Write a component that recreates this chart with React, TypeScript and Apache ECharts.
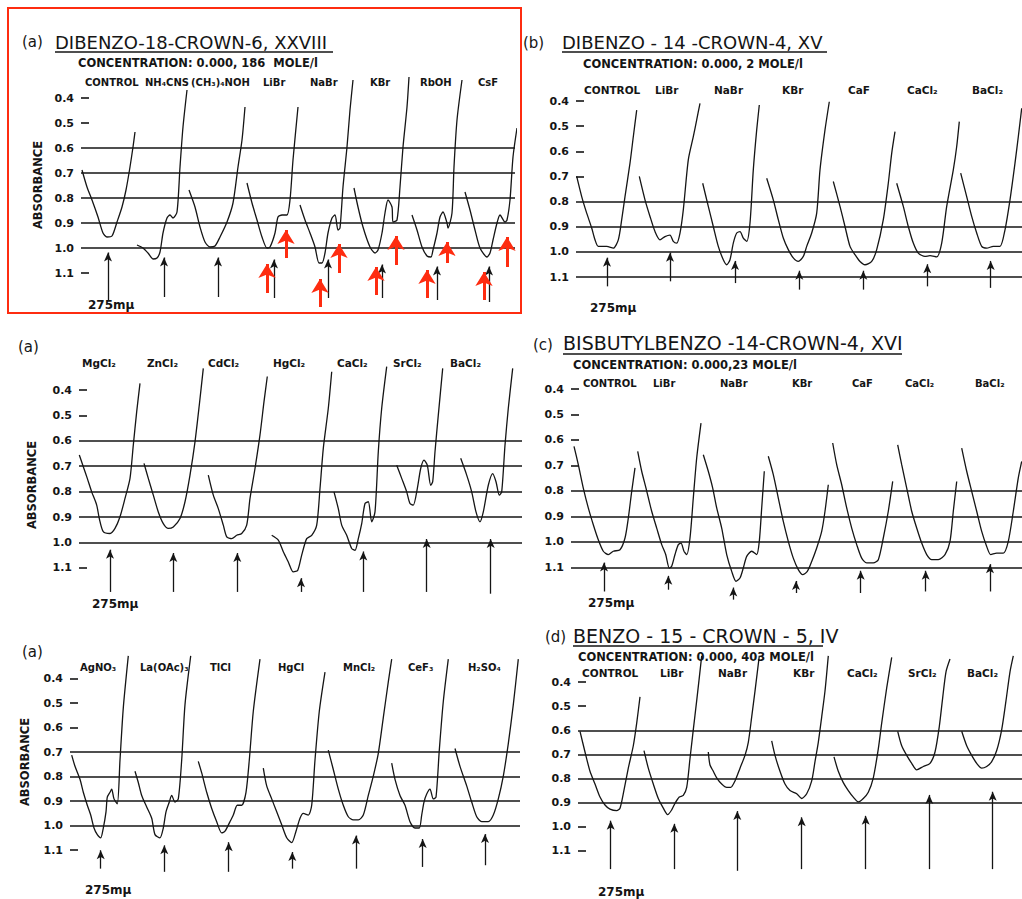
import React, { useEffect, useRef } from 'react';
import * as echarts from 'echarts';

type Pt = [number, number];
type Arrow = [number, number, number]; // x position, tail absorbance, tip absorbance

// ---------- tick labels ----------
const tickValues = [0.4, 0.5, 0.6, 0.7, 0.8, 0.9, 1.0, 1.1];

// ---------- panel (a) DIBENZO-18-CROWN-6 ----------
const catA1 = ['CONTROL', 'NH₄CNS', '(CH₃)₄NOH', 'LiBr', 'NaBr', 'KBr', 'RbOH', 'CsF'];
const curvesA1: Pt[][] = [
  [[82,0.688],[87,0.756],[92,0.808],[98,0.876],[103,0.94],[107,0.956],[112,0.952],[117,0.896],[122,0.836],[126,0.768],[130,0.676],[133,0.596],[135,0.536]],
  [[137,0.988],[143,1.0],[148,1.02],[153,1.044],[157,1.04],[160,1.016],[163,0.94],[167,0.88],[170,0.868],[173,0.88],[177,0.856],[180,0.676],[183,0.516],[187,0.368]],
  [[189,0.768],[195,0.836],[200,0.916],[205,0.976],[210,0.996],[215,0.992],[220,0.956],[227,0.896],[233,0.82],[238,0.676],[242,0.568],[245,0.436]],
  [[247,0.74],[252,0.82],[257,0.888],[262,0.956],[267,1.0],[270,0.996],[275,0.94],[278,0.876],[282,0.868],[287,0.868],[290,0.808],[293,0.648],[298,0.436]],
  [[300,0.828],[305,0.888],[310,0.94],[315,0.996],[319,1.06],[322,1.06],[325,1.02],[328,0.94],[332,0.88],[335,0.868],[338,0.928],[340,0.92],[343,0.756],[347,0.596],[350,0.448],[353,0.328]],
  [[354,0.76],[358,0.836],[363,0.916],[370,0.996],[375,1.02],[378,1.008],[382,0.94],[385,0.86],[388,0.808],[392,0.836],[393,0.896],[397,0.888],[400,0.756],[403,0.596],[407,0.436],[409,0.316]],
  [[412,0.868],[417,0.928],[422,0.996],[427,1.032],[431,1.036],[433,1.008],[437,0.94],[440,0.876],[443,0.856],[447,0.9],[448,0.92],[452,0.86],[454,0.676],[457,0.488],[462,0.328]],
  [[465,0.776],[470,0.848],[475,0.928],[480,1.0],[487,1.036],[490,1.02],[493,0.968],[497,0.9],[500,0.868],[505,0.896],[507,0.888],[510,0.808],[513,0.636],[517,0.52]],
];
const arrowsA1: Arrow[] = [[108,1.208,1.0],[164,1.196,1.02],[218,1.196,1.02],[274,1.2,1.028],[328,1.2,1.028],[382,1.2,1.048],[437,1.208,1.056],[489,1.216,1.056]];
const redArrowsA1: Arrow[] = [[267,1.18,1.036],[286,1.04,0.9],[320,1.236,1.096],[339,1.1,0.956],[376,1.188,1.048],[396,1.068,0.924],[427,1.2,1.06],[447,1.06,0.948],[484,1.208,1.068],[507,1.076,0.928]];
const linesA1 = [0.6, 0.7, 0.8, 0.9, 1.0];

// ---------- panel (b) DIBENZO-14-CROWN-4 ----------
const catB = ['CONTROL', 'LiBr', 'NaBr', 'KBr', 'CaF', 'CaCl₂', 'BaCl₂'];
const curvesB: Pt[][] = [
  [[576.7,0.70],[581.7,0.78],[586.7,0.846],[591.7,0.905],[595,0.952],[598.3,0.978],[606.7,0.978],[613.3,0.985],[618.3,0.952],[621.7,0.872],[625,0.78],[630,0.647],[633.3,0.542],[636.7,0.436]],
  [[639.3,0.70],[645,0.793],[650,0.859],[655,0.919],[660,0.952],[665,0.939],[670,0.933],[673.3,0.958],[676.7,0.965],[680,0.925],[683.3,0.833],[688.3,0.634],[693.3,0.542],[696.7,0.475],[700,0.409]],
  [[702.7,0.727],[708.3,0.819],[713.3,0.899],[718.3,0.978],[723.3,1.031],[726.7,1.051],[730,1.031],[733.3,0.965],[736.7,0.925],[740,0.919],[743.3,0.945],[746.7,0.958],[750,0.885],[753.3,0.674],[756.7,0.515],[759.3,0.416]],
  [[766.7,0.707],[773.3,0.793],[778.3,0.872],[783.3,0.945],[788.3,0.991],[793.3,1.024],[798.3,1.038],[803.3,1.018],[806.7,0.978],[811.7,0.925],[816.7,0.846],[820,0.674],[825,0.515],[829.3,0.403]],
  [[833.3,0.72],[840,0.819],[845,0.899],[850,0.978],[855,1.011],[860,1.038],[865,1.051],[871.7,1.038],[876.7,0.991],[883.3,0.872],[888.3,0.727],[891.7,0.608],[895,0.522]],
  [[896.7,0.727],[903.3,0.819],[908.3,0.899],[913.3,0.965],[918.3,1.005],[925,1.018],[930,1.015],[936.7,1.02],[941.7,0.965],[946.7,0.819],[953.3,0.674],[956.7,0.581],[959.3,0.482]],
  [[960.7,0.687],[966.7,0.78],[971.7,0.859],[976.7,0.925],[981.7,0.978],[986.7,0.985],[993.3,0.978],[1000,0.978],[1005,0.912],[1010,0.793],[1015,0.647],[1018.3,0.542],[1021.7,0.429]],
];
const arrowsB: Arrow[] = [[607,1.137,1.005],[670,1.117,0.985],[735,1.124,1.018],[799.3,1.15,1.057],[863.3,1.15,1.057],[927.3,1.137,1.031],[990.7,1.143,1.018]];
const linesB = [0.8, 0.9, 1.0, 1.1];

// ---------- panel (a) chlorides ----------
const catA2 = ['MgCl₂', 'ZnCl₂', 'CdCl₂', 'HgCl₂', 'CaCl₂', 'SrCl₂', 'BaCl₂'];
const curvesA2: Pt[][] = [
  [[79.3,0.656],[83.3,0.702],[87.3,0.748],[91.7,0.801],[96.7,0.853],[99.3,0.906],[103.3,0.958],[110,0.965],[115,0.945],[120,0.899],[125,0.827],[130,0.748],[133.3,0.617],[136.7,0.485],[140,0.374]],
  [[144,0.689],[148.3,0.748],[153.3,0.814],[158.3,0.88],[163.3,0.926],[168.3,0.945],[173.3,0.939],[180,0.906],[185,0.84],[190,0.735],[195,0.604],[199.3,0.459],[203.3,0.315]],
  [[208.3,0.735],[213.3,0.814],[218.3,0.867],[223.3,0.932],[226.7,0.978],[231.7,0.985],[236.7,0.972],[241.7,0.965],[246.7,0.932],[250,0.827],[255,0.709],[260,0.577],[264,0.446],[267.3,0.347]],
  [[271.7,0.972],[278.3,0.991],[283.3,1.037],[288.3,1.077],[293.3,1.116],[297.7,1.11],[301.7,1.05],[306.7,0.985],[311.7,0.972],[316.7,0.932],[320,0.788],[323.3,0.63],[328.3,0.472],[331.7,0.328]],
  [[334,0.801],[338.3,0.867],[341.7,0.932],[346.7,0.972],[351.7,1.024],[355,1.031],[358.3,0.985],[361.7,0.926],[365,0.847],[368.3,0.84],[371.7,0.919],[375,0.88],[378.3,0.643],[381.7,0.472],[386.7,0.308]],
  [[396.7,0.696],[401.7,0.748],[406.7,0.801],[410,0.847],[413.3,0.853],[417.3,0.788],[420.7,0.709],[424,0.676],[427.3,0.696],[430.7,0.775],[432.7,0.761],[435,0.643],[438.3,0.499],[442.7,0.315]],
  [[460.7,0.669],[466.7,0.735],[471.7,0.801],[476,0.88],[480,0.919],[483.3,0.88],[488.3,0.775],[492.7,0.729],[496,0.761],[499.3,0.814],[501.7,0.801],[505,0.617],[508.3,0.472],[512.7,0.315]],
];
const arrowsA2: Arrow[] = [[110,1.195,1.011],[173.3,1.195,1.024],[237.3,1.195,1.024],[301,1.195,1.123],[363.3,1.195,1.018],[426.7,1.195,0.969],[490.7,1.202,0.969]];
const linesA2 = [0.6, 0.7, 0.8, 0.9, 1.0];

// ---------- panel (c) BISBUTYLBENZO-14-CROWN-4 ----------
const catC = ['CONTROL', 'LiBr', 'NaBr', 'KBr', 'CaF', 'CaCl₂', 'BaCl₂'];
const curvesC: Pt[][] = [
  [[574,0.625],[578.3,0.697],[583.3,0.789],[588.3,0.867],[593.3,0.933],[598.3,0.992],[603.3,1.037],[608.3,1.05],[613.3,1.037],[620,1.031],[625,0.985],[628.3,0.907],[631.7,0.802],[635,0.71]],
  [[637.7,0.645],[641.7,0.723],[646,0.789],[651.7,0.88],[656.7,0.946],[661.7,1.011],[665.7,1.05],[669.3,1.103],[671.7,1.096],[675,1.05],[678.3,1.011],[681,1.005],[684,1.037],[686.7,1.05],[690,0.985],[693.3,0.828],[696.7,0.671],[701,0.534]],
  [[703.3,0.658],[708.3,0.723],[712.7,0.789],[716.7,0.867],[721.7,0.946],[726.7,1.05],[731.7,1.116],[736,1.155],[740,1.142],[743.3,1.103],[746.7,1.057],[751.7,1.037],[756.7,1.05],[759.3,0.998],[761.7,0.867],[764.3,0.723]],
  [[768.3,0.664],[773.3,0.736],[778.3,0.828],[783.3,0.92],[788.3,0.998],[793.3,1.064],[798.3,1.109],[802.7,1.129],[807.3,1.116],[811.7,1.077],[816.7,1.024],[821.7,0.959],[825,0.88],[828.3,0.776]],
  [[832.7,0.612],[836.7,0.697],[841.7,0.776],[846.7,0.867],[851.7,0.946],[856.7,1.011],[861.7,1.064],[866.7,1.083],[873.3,1.083],[878.3,1.07],[883.3,0.985],[888.3,0.88],[892.7,0.763]],
  [[897.7,0.619],[901.7,0.697],[906.7,0.789],[911.7,0.88],[916.7,0.946],[921.7,1.005],[926.7,1.05],[931.7,1.07],[938.3,1.07],[945,1.05],[950,0.998],[953.3,0.88],[956.7,0.763]],
  [[961.7,0.632],[966.7,0.723],[971.7,0.802],[976.7,0.88],[981.7,0.959],[986.7,1.018],[990.7,1.05],[996.7,1.044],[1003.3,1.044],[1008.3,0.998],[1013.3,0.88],[1018.3,0.749],[1021.7,0.684]],
];
const arrowsC: Arrow[] = [[604,1.195,1.064],[668.3,1.188,1.116],[733.3,1.227,1.162],[796,1.201,1.136],[860.7,1.201,1.096],[925.7,1.195,1.096],[990,1.195,1.07]];
const linesC = [0.8, 0.9, 1.0, 1.1];

// ---------- panel (a) miscellaneous salts ----------
const catA3 = ['AgNO₃', 'La(OAc)₃', 'TlCl', 'HgCl', 'MnCl₂', 'CeF₃', 'H₂SO₄'];
const curvesA3: Pt[][] = [
  [[71.7,0.712],[75,0.758],[80,0.811],[83.3,0.864],[87.3,0.917],[90.7,0.957],[94,1.01],[97.3,1.037],[100.7,1.05],[103.3,1.01],[106,0.944],[107.3,0.884],[110,0.864],[111.7,0.851],[114,0.891],[117.3,0.911],[120,0.732],[123.3,0.519],[128.3,0.307]],
  [[135,0.778],[138.3,0.824],[141.7,0.877],[146.7,0.924],[151.7,0.97],[155,1.037],[160,1.05],[163.3,1.01],[166,0.944],[169.3,0.904],[171.7,0.877],[175,0.904],[178.3,0.891],[181.7,0.732],[185,0.506],[190.7,0.307]],
  [[198.3,0.738],[201.7,0.785],[206.7,0.864],[211.7,0.93],[216.7,0.984],[221.7,1.03],[225,1.023],[230,0.984],[233.3,0.957],[237.3,0.917],[241.7,0.917],[246,0.864],[249.3,0.732],[253.3,0.533],[260,0.32]],
  [[263.3,0.765],[266.7,0.838],[271.7,0.891],[276.7,0.944],[281.7,0.997],[286.7,1.05],[291.7,1.07],[296,1.023],[300,0.97],[303.3,0.95],[308.3,0.957],[311.7,0.917],[315,0.732],[319.3,0.533],[325,0.373]],
  [[328.3,0.692],[333.3,0.771],[338.3,0.851],[343.3,0.917],[348.3,0.964],[353.3,0.977],[358.3,0.977],[363.3,0.957],[368.3,0.877],[373.3,0.798],[378.3,0.705],[383.3,0.559],[388.3,0.413],[391.7,0.32]],
  [[391.7,0.745],[395,0.811],[400,0.877],[405,0.917],[410,0.984],[415,1.01],[419.3,1.01],[421.7,0.957],[424,0.904],[426.7,0.871],[430,0.851],[433.3,0.891],[436,0.884],[439.3,0.692],[443.3,0.493],[448.3,0.32]],
  [[455,0.685],[460,0.758],[466.7,0.838],[471.7,0.904],[476.7,0.964],[481.7,0.984],[488.3,0.984],[493.3,0.957],[498.3,0.891],[503.3,0.798],[508.3,0.665],[513.3,0.506],[518.3,0.32]],
];
const arrowsA3: Arrow[] = [[100.7,1.176,1.083],[164.3,1.189,1.063],[228.7,1.189,1.05],[292.3,1.176,1.09],[356,1.176,1.023],[422.7,1.169,1.037],[485,1.162,1.017]];
const linesA3 = [0.7, 0.8, 0.9, 1.0];

// ---------- panel (d) BENZO-15-CROWN-5 ----------
const catD = ['CONTROL', 'LiBr', 'NaBr', 'KBr', 'CaCl₂', 'SrCl₂', 'BaCl₂'];
const curvesD: Pt[][] = [
  [[580,0.604],[585,0.69],[590,0.77],[595,0.823],[600,0.877],[605,0.91],[610,0.927],[616.7,0.933],[620,0.923],[623.3,0.863],[628.3,0.757],[633.3,0.664],[636.7,0.57],[640,0.461]],
  [[644,0.684],[648.3,0.757],[653.3,0.823],[658.3,0.883],[663.3,0.923],[667.7,0.95],[671.7,0.93],[675,0.903],[679.3,0.877],[683.3,0.87],[686.7,0.837],[690,0.717],[693.3,0.597],[696.7,0.477],[701.7,0.291]],
  [[708.3,0.69],[710,0.744],[713.3,0.77],[716.7,0.797],[721.7,0.823],[726.7,0.837],[730.7,0.837],[735,0.81],[740,0.757],[745,0.704],[748.3,0.65],[751.7,0.544],[755,0.437],[759.3,0.291]],
  [[771.7,0.644],[775,0.704],[780,0.77],[785,0.823],[790,0.85],[796.7,0.863],[801.7,0.883],[806.7,0.863],[811.7,0.81],[815,0.73],[818.3,0.65],[821.7,0.544],[825,0.437],[828.3,0.291]],
  [[834,0.71],[838.3,0.77],[843.3,0.817],[848.3,0.85],[853.3,0.877],[858.3,0.897],[863.3,0.883],[868.3,0.857],[873.3,0.797],[878.3,0.677],[881.7,0.57],[886.7,0.424],[891.7,0.297]],
  [[897.7,0.604],[901.7,0.664],[906.7,0.704],[911.7,0.737],[916.7,0.764],[923.3,0.75],[930,0.737],[935,0.69],[939.3,0.584],[942.7,0.464],[946,0.357],[950,0.304]],
  [[961.7,0.604],[966.7,0.664],[971.7,0.704],[976.7,0.737],[981.7,0.757],[986.7,0.75],[991.7,0.73],[996.7,0.684],[1001.7,0.597],[1006,0.477],[1010,0.357],[1013.3,0.291]],
];
const arrowsD: Arrow[] = [[610.7,1.176,0.957],[674.3,1.176,0.97],[737.3,1.183,0.917],[801.7,1.176,0.943],[865.7,1.176,0.937],[929.3,1.176,0.85],[992.7,1.176,0.837]];
const linesD = [0.6, 0.7, 0.8, 0.9];

// ---------- layout (positions / styles only) ----------
const FONT = 'DejaVu Sans';
const INK = '#151515';
const RED = '#fe2c10';

interface PanelLayout {
  left: number; right: number; y04: number; px: number; // px per 0.1 absorbance
  curves: Pt[][]; arrows: Arrow[]; lines: number[]; red?: Arrow[];
}
const panels: PanelLayout[] = [
  { left: 81, right: 515, y04: 98, px: 25, curves: curvesA1, arrows: arrowsA1, lines: linesA1, red: redArrowsA1 },
  { left: 576, right: 1022, y04: 101, px: 25.15, curves: curvesB, arrows: arrowsB, lines: linesB },
  { left: 79, right: 522, y04: 390, px: 25.4, curves: curvesA2, arrows: arrowsA2, lines: linesA2 },
  { left: 571, right: 1022, y04: 389, px: 25.47, curves: curvesC, arrows: arrowsC, lines: linesC },
  { left: 70, right: 520, y04: 680, px: 25.13, curves: curvesA3, arrows: arrowsA3, lines: linesA3 },
  { left: 578, right: 1022, y04: 684, px: 25.03, curves: curvesD, arrows: arrowsD, lines: linesD },
];
const Y_MIN = 0.2;
const Y_MAX = 1.3;
const TICK_LEN = 8;

// label rows: [categories, x positions, y, fontSize]
const labelRows: [string[], number[], number, number][] = [
  [catA1, [85, 145, 191, 263, 310, 370, 420, 478], 82, 10],
  [catB, [584, 655, 714, 782, 848, 907, 972], 90, 10.5],
  [catA2, [82, 147, 208, 273, 337, 393, 450], 363, 10.5],
  [catC, [583, 653, 720, 792, 852, 905, 975], 383, 10],
  [catA3, [80, 140, 210, 278, 343, 408, 468], 667, 10],
  [catD, [582, 660, 718, 793, 847, 908, 967], 673, 10.5],
];

function txt(text: string, x: number, y: number, size: number, opts: any = {}) {
  return {
    type: 'text', x, y, silent: true, rotation: opts.rotation || 0,
    style: {
      text, fill: INK, font: `${opts.weight || 'normal'} ${size}px "${FONT}"`,
      align: opts.align || 'left', verticalAlign: 'middle',
    },
  };
}
function uline(x1: number, x2: number, y: number) {
  return { type: 'line', silent: true, shape: { x1, y1: y, x2, y2: y }, style: { stroke: INK, lineWidth: 1.6 } };
}

export default function App() {
  const ref = useRef<HTMLDivElement>(null);
  useEffect(() => {
    if (!ref.current) return;
    const chart = echarts.init(ref.current, undefined, { renderer: 'svg' });

    const grid: any[] = [];
    const xAxis: any[] = [];
    const yAxis: any[] = [];
    const series: any[] = [];

    panels.forEach((p, i) => {
      const top = p.y04 - ((0.4 - Y_MIN) / 0.1) * p.px;
      const height = ((Y_MAX - Y_MIN) / 0.1) * p.px;
      grid.push({ left: p.left, top, width: p.right - p.left, height, containLabel: false });
      xAxis.push({ type: 'value', gridIndex: i, min: p.left, max: p.right, show: false });
      yAxis.push({
        type: 'value', gridIndex: i, min: Y_MIN, max: Y_MAX, inverse: true,
        axisLine: { show: false }, splitLine: { show: false }, axisTick: { show: false },
        axisLabel: {
          customValues: tickValues, formatter: (v: number) => v.toFixed(1),
          color: INK, fontFamily: FONT, fontSize: 11, fontWeight: 'bold', margin: 7,
        },
      });
      const unit = 0.1 / p.px; // absorbance per pixel
      p.curves.forEach((c, k) => {
        const s: any = {
          type: 'line', xAxisIndex: i, yAxisIndex: i, data: c, showSymbol: false, symbol: 'none',
          smooth: 0.25, clip: false, silent: true,
          lineStyle: { color: INK, width: 1.3 },
        };
        if (k === 0) {
          s.markLine = {
            silent: true, symbol: ['none', 'arrow'], symbolSize: [6, 9], animation: false,
            label: { show: false }, emphasis: { disabled: true },
            lineStyle: { color: INK, width: 1.3, type: 'solid' },
            data: p.arrows.map(([x, b, t]) => [{ coord: [x, b] }, { coord: [x, t + 4.5 * unit] }]),
          };
        } else if (k === 1) {
          // short tick dashes for the ticks that carry no horizontal line
          const dashes = tickValues
            .filter((v) => p.lines.indexOf(v) < 0)
            .map((v) => [{ coord: [p.left, v] }, { coord: [p.left + TICK_LEN, v] }]);
          s.markLine = {
            silent: true, symbol: 'none', animation: false,
            label: { show: false }, emphasis: { disabled: true },
            lineStyle: { color: INK, width: 1.6, type: 'solid' },
            data: [...p.lines.map((v) => ({ yAxis: v })), ...dashes],
          };
        } else if (k === 2 && p.red) {
          s.markLine = {
            silent: true, symbol: ['none', 'arrow'], symbolSize: [13, 14], animation: false,
            label: { show: false }, emphasis: { disabled: true },
            lineStyle: { color: RED, width: 3, type: 'solid' },
            data: p.red.map(([x, b, t]) => [{ coord: [x, b] }, { coord: [x, t + 7 * unit] }]),
          };
        }
        series.push(s);
      });
    });

    const g: any[] = [];
    // red frame around first panel
    g.push({ type: 'rect', silent: true, shape: { x: 8, y: 8, width: 513, height: 305 }, style: { fill: 'none', stroke: RED, lineWidth: 2 } });
    // titles
    g.push(txt('(a)', 22, 42, 15));
    g.push(txt('DIBENZO-18-CROWN-6, XXVIII', 55, 42, 18));
    g.push(uline(55, 333, 52));
    g.push(txt('CONCENTRATION: 0.000, 186  MOLE/l', 78, 63, 11.5, { weight: 'bold' }));
    g.push(txt('(b)', 523, 43, 15));
    g.push(txt('DIBENZO - 14 -CROWN-4, XV', 562, 42, 18));
    g.push(uline(562, 827, 52));
    g.push(txt('CONCENTRATION: 0.000, 2 MOLE/l', 583, 64, 11.5, { weight: 'bold' }));
    g.push(txt('(a)', 18, 347, 15));
    g.push(txt('(c)', 533, 345, 15));
    g.push(txt('BISBUTYLBENZO -14-CROWN-4, XVI', 563, 343, 19));
    g.push(uline(563, 902, 354));
    g.push(txt('CONCENTRATION: 0.000,23 MOLE/l', 573, 365, 11.5, { weight: 'bold' }));
    g.push(txt('(a)', 22, 652, 15));
    g.push(txt('(d)', 545, 637, 15));
    g.push(txt('BENZO - 15 - CROWN - 5, IV', 573, 636, 19));
    g.push(uline(573, 823, 646));
    g.push(txt('CONCENTRATION: 0.000, 403 MOLE/l', 578, 657, 11.5, { weight: 'bold' }));
    // y-axis titles
    g.push(txt('ABSORBANCE', 38, 185, 11.5, { rotation: Math.PI / 2, align: 'center', weight: 'bold' }));
    g.push(txt('ABSORBANCE', 32, 485, 11.5, { rotation: Math.PI / 2, align: 'center', weight: 'bold' }));
    g.push(txt('ABSORBANCE', 25, 762, 11.5, { rotation: Math.PI / 2, align: 'center', weight: 'bold' }));
    // wavelength marks
    const wl = { weight: 'bold' };
    g.push(txt('275mμ', 88, 305, 12, wl));
    g.push(txt('275mμ', 590, 308, 12, wl));
    g.push(txt('275mμ', 92, 604, 12, wl));
    g.push(txt('275mμ', 588, 603, 12, wl));
    g.push(txt('275mμ', 85, 890, 12, wl));
    g.push(txt('275mμ', 598, 892, 12, wl));
    // category labels
    labelRows.forEach(([cats, xs, y, size]) => {
      cats.forEach((c, j) => g.push(txt(c, xs[j], y, size, { weight: 'bold' })));
    });

    chart.setOption({
      animation: false,
      backgroundColor: '#ffffff',
      grid, xAxis, yAxis, series,
      graphic: { elements: g },
    });
    return () => chart.dispose();
  }, []);
  return (
    <div
      ref={ref}
      style={{ position: 'absolute', left: 0, top: 0, width: 1022, height: 899, background: '#fff' }}
    />
  );
}
